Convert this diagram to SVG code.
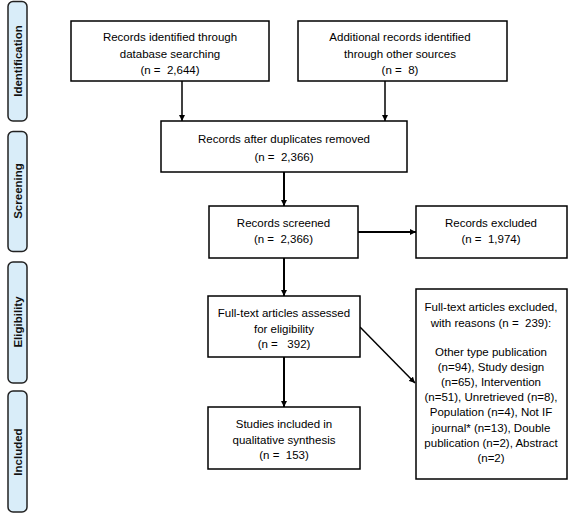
<svg xmlns="http://www.w3.org/2000/svg" width="568" height="513" viewBox="0 0 568 513" xml:space="preserve">
<style>
.box{fill:#fff;stroke:#000;stroke-width:1.5}
.bar{fill:#d9edf9;stroke:#222;stroke-width:1.5}
.t{font-family:"Liberation Sans",Arial,sans-serif;font-size:11.5px;text-anchor:middle;fill:#000;white-space:pre}
.lab{font-family:"Liberation Sans",Arial,sans-serif;font-size:11.5px;font-weight:bold;text-anchor:middle;fill:#111}
.c{stroke:#000;stroke-width:1.5;fill:none;marker-end:url(#ah)}
.c2{stroke:#000;stroke-width:2;fill:none;marker-end:url(#ah)}
</style>
<defs>
<marker id="ah" viewBox="0 0 10 10" refX="10" refY="5" markerWidth="6" markerHeight="6" markerUnits="userSpaceOnUse" orient="auto">
<path d="M0,0 L10,5 L0,10 z" fill="#000"/>
</marker>
</defs>
<rect width="568" height="513" fill="#fff"/>
<g id="phase-identification"><rect class="bar" x="8" y="1.5" width="19" height="119.5" rx="5"/><text class="lab" transform="translate(21.5,61) rotate(-90)">Identification</text></g>
<g id="phase-screening"><rect class="bar" x="8" y="131.5" width="19" height="120" rx="5"/><text class="lab" transform="translate(21.5,191) rotate(-90)">Screening</text></g>
<g id="phase-eligibility"><rect class="bar" x="8" y="262" width="19" height="121" rx="5"/><text class="lab" transform="translate(21.5,322) rotate(-90)">Eligibility</text></g>
<g id="phase-included"><rect class="bar" x="8" y="391" width="19" height="121" rx="5"/><text class="lab" transform="translate(21.5,452) rotate(-90)">Included</text></g>

<g id="connectors">
<path class="c" d="M182,81 V121"/>
<path class="c" d="M385,81 V121"/>
<path class="c2" d="M284,172 V206"/>
<path class="c2" d="M284,258 V296"/>
<path class="c2" d="M284,357 V407"/>
<path class="c2" d="M358,232 H416"/>
<path class="c" d="M360,327 L415,383"/>
</g>

<g id="n1"><rect class="box" x="71" y="21" width="198" height="60"/>
<text class="t" x="170" y="41">Records identified through</text>
<text class="t" x="170" y="57.5">database searching</text>
<text class="t" x="170" y="74">(n =  2,644)</text></g>
<g id="n2"><rect class="box" x="298" y="21" width="209" height="60"/>
<text class="t" x="400" y="41">Additional records identified</text>
<text class="t" x="400" y="57.5">through other sources</text>
<text class="t" x="400" y="74">(n =  8)</text></g>
<g id="n3"><rect class="box" x="161" y="121" width="246" height="51"/>
<text class="t" x="284" y="143">Records after duplicates removed</text>
<text class="t" x="284" y="161">(n =  2,366)</text></g>
<g id="n4"><rect class="box" x="209" y="206" width="149" height="52"/>
<text class="t" x="283.5" y="227">Records screened</text>
<text class="t" x="283.5" y="243">(n =  2,366)</text></g>
<g id="n5"><rect class="box" x="416" y="206" width="151" height="52"/>
<text class="t" x="491" y="227">Records excluded</text>
<text class="t" x="491" y="243">(n =  1,974)</text></g>
<g id="n6"><rect class="box" x="208" y="296" width="152" height="61"/>
<text class="t" x="284" y="317">Full-text articles assessed</text>
<text class="t" x="284" y="332.5">for eligibility</text>
<text class="t" x="284" y="348">(n =   392)</text></g>
<g id="n7"><rect class="box" x="208" y="407" width="152" height="62"/>
<text class="t" x="284" y="428">Studies included in</text>
<text class="t" x="284" y="444">qualitative synthesis</text>
<text class="t" x="284" y="459">(n =  153)</text></g>
<g id="n8"><rect class="box" x="416" y="289" width="151" height="190"/>
<text class="t" x="491" y="311">Full-text articles excluded,</text>
<text class="t" x="491" y="327">with reasons (n =  239):</text>
<text class="t" x="491" y="356">Other type publication</text>
<text class="t" x="491" y="371">(n=94), Study design</text>
<text class="t" x="491" y="386">(n=65), Intervention</text>
<text class="t" x="491" y="401">(n=51), Unretrieved (n=8),</text>
<text class="t" x="491" y="416">Population (n=4), Not IF</text>
<text class="t" x="491" y="432">journal* (n=13), Double</text>
<text class="t" x="491" y="447">publication (n=2), Abstract</text>
<text class="t" x="491" y="462">(n=2)</text></g>
</svg>
